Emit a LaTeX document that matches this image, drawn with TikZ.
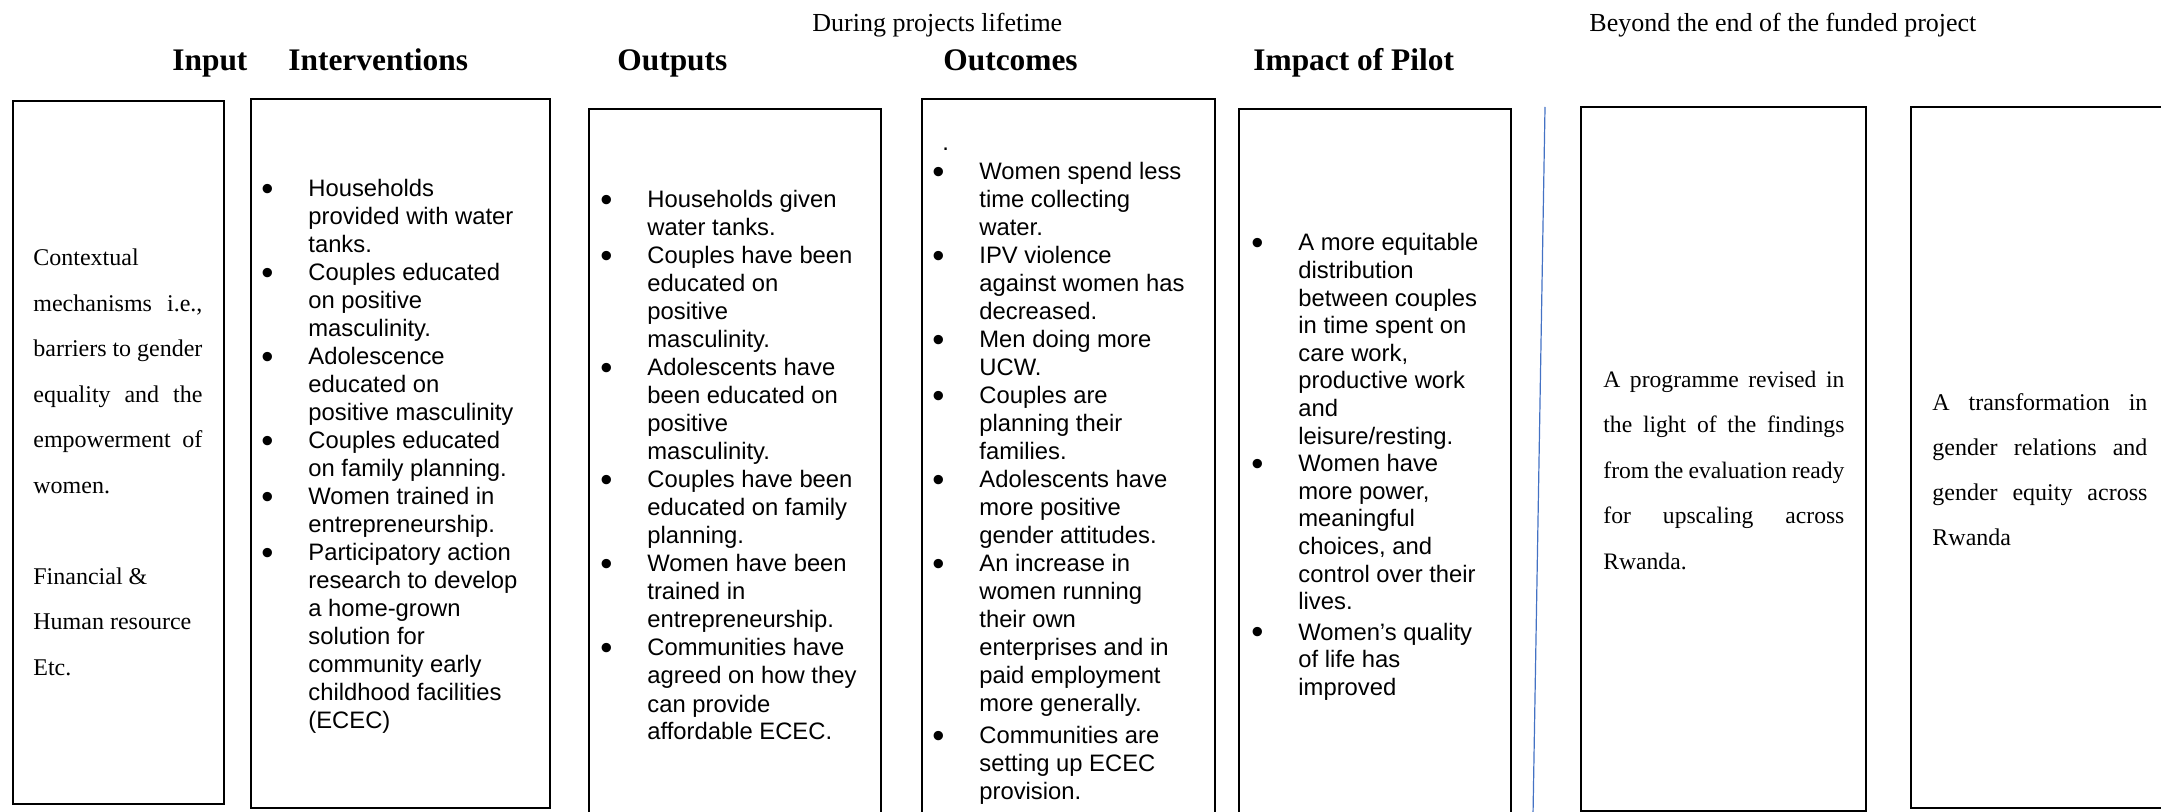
\documentclass[tikz,border=0pt]{standalone}
\usepackage{fontspec}
\setmainfont{Liberation Serif}
\newfontfamily\sansbody{Liberation Sans}
\usetikzlibrary{fit}
\definecolor{divblue}{HTML}{4472C4}

% bulleted item with hanging indent; lines are broken by hand with \\
\newcommand\bigbullet{\raisebox{-1.8pt}{\scalebox{1.45}{\textbullet}}}
\newcommand\bitem[1]{\par\noindent\hangindent=23pt\hangafter=1\makebox[23pt][l]{\hspace*{-0.5pt}\bigbullet}#1\par}
% a fully justified line of the given text width
\newcommand\jline[1]{\makebox[\linewidth][s]{#1}\\}

\tikzset{
  panel/.style={draw, line width=1.3pt, inner sep=0pt},
  heading/.style={anchor=base west, inner sep=0pt, font=\bfseries\fontsize{15.7pt}{18pt}\selectfont},
  phase/.style={anchor=base west, inner sep=0pt, font=\fontsize{13pt}{15pt}\selectfont},
  body/.style={anchor=base west, inner sep=0pt},
  divider/.style={draw=divblue, line width=0.6pt},
}

\begin{document}
\begin{tikzpicture}[x=0.5pt, y=-0.5pt]
\useasboundingbox (0,0) rectangle (2161,812);
\clip (0,0) rectangle (2161,812);

% phase labels
\node[phase] (p-during) at (812,32) {During projects lifetime};
\node[phase] (p-beyond) at (1589,32) {Beyond the end of the funded project};

% column headings
\node[heading] (h-input) at (172,71) {Input};
\node[heading] (h-intv) at (288,71) {Interventions};
\node[heading] (h-outputs) at (617,71) {Outputs};
\node[heading] (h-outcomes) at (943,71) {Outcomes};
\node[heading] (h-impact) at (1253,71) {Impact of Pilot};

% column frames
\node[panel, fit={(13,101) (224,804)}] (input) {};
\node[panel, fit={(251,99) (550,808)}] (intv) {};
\node[panel, fit={(589,109) (881,830)}] (outputs) {};
\node[panel, fit={(922,99) (1215,830)}] (outcomes) {};
\node[panel, fit={(1239,109) (1511,830)}] (impact) {};
\node[panel, fit={(1581,107) (1866,811)}] (programme) {};
\node[panel, fit={(1911,107) (2190,808)}] (transform) {};

% separator between the two phases
\coordinate (div-top) at (1545,107);
\coordinate (div-bot) at (1533,815);
\draw[divider] (div-top) -- (div-bot);

% input text
\node[body] (input-text) at (33,266) {\parbox[t]{84.5pt}{\fontsize{12pt}{22.75pt}\selectfont
Contextual\\
\jline{mechanisms i.e.,}
\jline{barriers to gender}
\jline{equality and the}
\jline{empowerment of}
women.\\[22.75pt]
Financial \&\\
Human resource\\
Etc.}};

% interventions
\node[body] (intv-text) at (262,197) {\parbox[t]{135pt}{\sansbody\fontsize{11.9pt}{14pt}\selectfont
\bitem{Households\\provided with water\\tanks.}
\bitem{Couples educated\\on positive\\masculinity.}
\bitem{Adolescence\\educated on\\positive masculinity}
\bitem{Couples educated\\on family planning.}
\bitem{Women trained in\\entrepreneurship.}
\bitem{Participatory action\\research to develop\\a home-grown\\solution for\\community early\\childhood facilities\\(ECEC)}}};

% outputs
\node[body] (outputs-text) at (601,208) {\parbox[t]{140pt}{\sansbody\fontsize{11.9pt}{14pt}\selectfont
\bitem{Households given\\water tanks.}
\bitem{Couples have been\\educated on\\positive\\masculinity.}
\bitem{Adolescents have\\been educated on\\positive\\masculinity.}
\bitem{Couples have been\\educated on family\\planning.}
\bitem{Women have been\\trained in\\entrepreneurship.}
\bitem{Communities have\\agreed on how they\\can provide\\affordable ECEC.}}};

% outcomes
\node[body] (outcomes-text) at (933,151) {\parbox[t]{140pt}{\sansbody\fontsize{11.9pt}{14pt}\selectfont
\noindent\hspace*{4.5pt}.\par\vspace{0.5pt}
\bitem{Women spend less\\time collecting\\water.}
\bitem{IPV violence\\against women has\\decreased.}
\bitem{Men doing more\\UCW.}
\bitem{Couples are\\planning their\\families.}
\bitem{Adolescents have\\more positive\\gender attitudes.}
\bitem{An increase in\\women running\\their own\\enterprises and in\\paid employment\\more generally.}
\vspace{2pt}
\bitem{Communities are\\setting up ECEC\\provision.}}};

% impact of pilot
\node[body] (impact-text) at (1252,251) {\parbox[t]{128pt}{\sansbody\fontsize{11.9pt}{13.8pt}\selectfont
\bitem{A more equitable\\distribution\\between couples\\in time spent on\\care work,\\productive work\\and\\leisure/resting.}
\bitem{Women have\\more power,\\meaningful\\choices, and\\control over their\\lives.}
\vspace{1.5pt}
\bitem{Women’s quality\\of life has\\improved}}};

% beyond the project
\node[body] (programme-text) at (1603,387) {\parbox[t]{120.5pt}{\fontsize{11.8pt}{22.8pt}\selectfont
\jline{A programme revised in}
\jline{the light of the findings}
\jline{from the evaluation ready}
\jline{for upscaling across}
Rwanda.}};

\node[body] (transform-text) at (1932,410) {\parbox[t]{107.5pt}{\fontsize{12pt}{22.5pt}\selectfont
\jline{A transformation in}
\jline{gender relations and}
\jline{gender equity across}
Rwanda}};
\end{tikzpicture}
\end{document}
